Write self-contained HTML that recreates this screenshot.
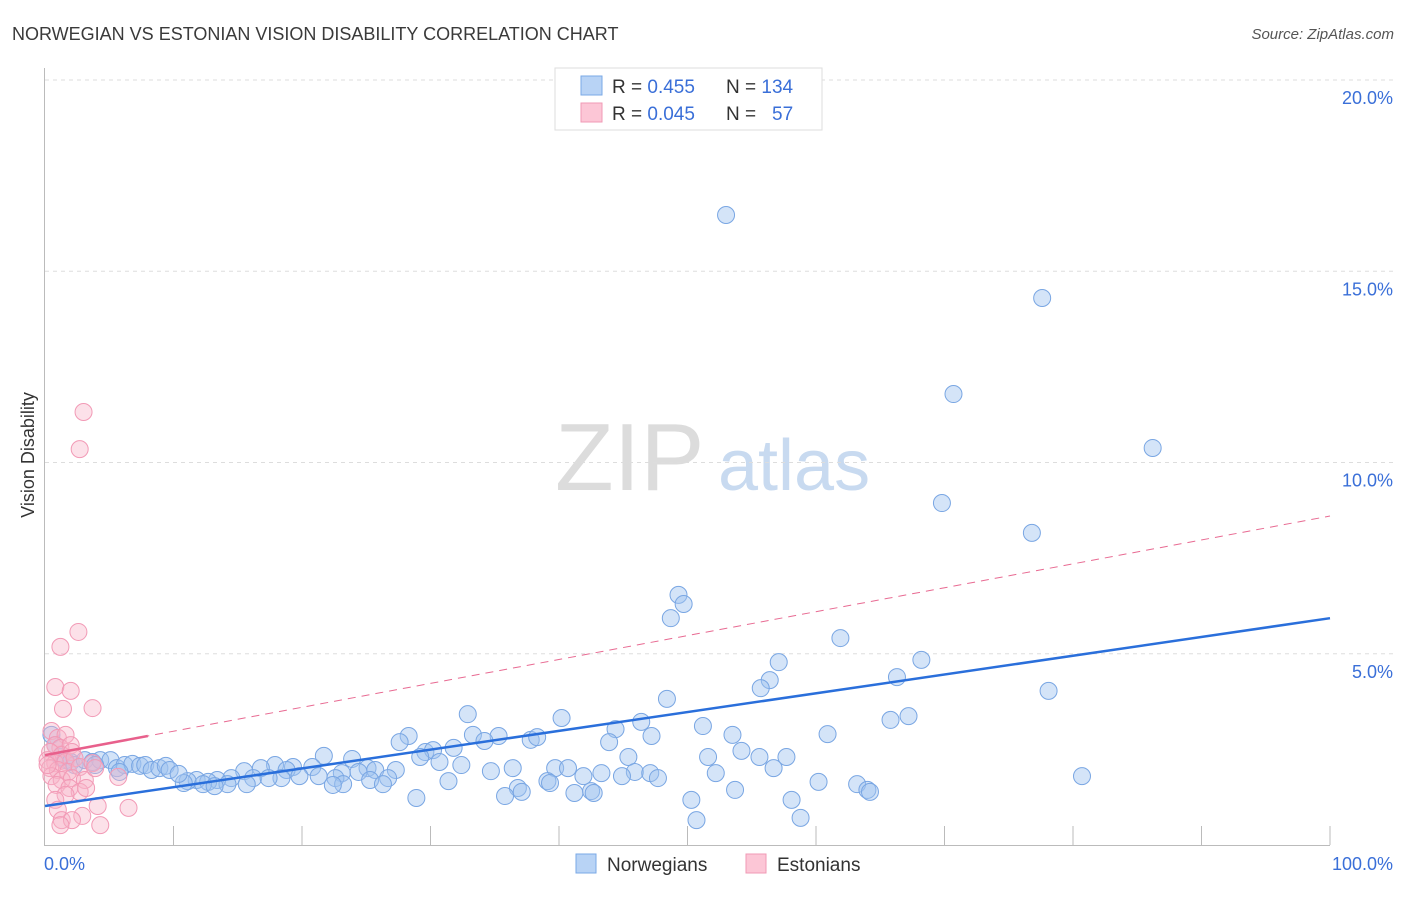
<!DOCTYPE html>
<html><head><meta charset="utf-8"><style>
body{margin:0;background:#fff;font-family:"Liberation Sans",sans-serif;}
svg text{font-family:"Liberation Sans",sans-serif;}
</style></head><body>
<svg id="chart" width="1406" height="892" xmlns="http://www.w3.org/2000/svg">
<text x="12" y="40" font-size="18" fill="#3a3a3a">NORWEGIAN VS ESTONIAN VISION DISABILITY CORRELATION CHART</text>
<text x="1394" y="39" font-size="15" fill="#555" text-anchor="end" font-style="italic">Source: ZipAtlas.com</text>
<g>
<text x="555" y="490" font-size="96" fill="#dcdcdc" font-family="Liberation Serif, serif">ZIP</text>
<text x="718" y="490" font-size="72" fill="#c8daf0">atlas</text>
</g>
<g id="grid"></g>
<line x1="44.5" y1="68" x2="44.5" y2="845" stroke="#bbb"/>
<line x1="44" y1="845.5" x2="1330" y2="845.5" stroke="#bbb"/>
<text transform="translate(34,455) rotate(-90)" font-size="18" fill="#333" text-anchor="middle">Vision Disability</text>
<text x="44" y="870" font-size="18" fill="#3a6fd8">0.0%</text>
<text x="1393" y="870" font-size="18" fill="#3a6fd8" text-anchor="end">100.0%</text>
<g id="marks"></g>
<g>
<rect x="555" y="68" width="267" height="62" fill="#fff" stroke="#ddd"/>
<rect x="581" y="76" width="21" height="19" fill="#b8d3f5" stroke="#7aa8e6"/>
<rect x="581" y="103" width="21" height="19" fill="#fcc6d6" stroke="#f09ab5"/>
<text x="612" y="93" font-size="19" fill="#333">R = <tspan fill="#3a6fd8">0.455</tspan><tspan x="726">N = </tspan><tspan fill="#3a6fd8">134</tspan></text>
<text x="612" y="120" font-size="19" fill="#333">R = <tspan fill="#3a6fd8">0.045</tspan><tspan x="726">N = </tspan><tspan fill="#3a6fd8" x="772">57</tspan></text>
</g>
<g>
<rect x="576" y="854" width="20" height="19" fill="#b8d3f5" stroke="#7aa8e6"/>
<text x="607" y="871" font-size="19" fill="#333">Norwegians</text>
<rect x="746" y="854" width="20" height="19" fill="#fcc6d6" stroke="#f09ab5"/>
<text x="777" y="871" font-size="19" fill="#333">Estonians</text>
</g>
</svg>
<script>
const yTicks=[5,10,15,20];
const yTickLabels=["5.0%","10.0%","15.0%","20.0%"];
const blueX=[53.0,77.6,70.7,86.2,69.8,76.8,49.3,49.7,48.7,61.9,68.2,57.1,56.4,55.7,66.3,78.1,48.4,67.2,65.8,32.9,40.2,46.4,44.4,51.2,28.3,33.3,35.3,37.8,38.3,43.9,47.2,53.5,60.9,27.6,34.2,31.8,29.6,30.2,21.7,23.9,30.7,32.4,29.2,45.4,51.6,54.2,55.6,57.7,17.9,19.3,20.8,18.8,16.8,15.5,25.1,25.7,27.3,36.4,39.7,40.7,23.1,24.4,26.7,19.8,21.3,34.7,43.3,45.9,47.1,56.7,52.2,80.7,41.9,44.9,47.7,22.6,18.4,14.5,16.2,17.4,13.4,11.8,12.7,11.1,25.3,31.4,39.1,14.2,15.7,12.3,10.8,13.2,23.2,26.3,39.3,60.2,63.2,53.7,36.8,37.1,64.0,64.2,22.4,41.2,42.5,42.7,35.8,28.9,50.3,58.1,50.7,58.8,0.5,0.8,1.2,1.6,2.0,2.3,3.1,3.7,4.3,5.1,5.6,6.2,6.8,7.4,7.8,8.3,8.9,9.4,9.7,10.4,5.8,3.9];
const blueY=[16.47,14.30,11.79,10.38,8.94,8.16,6.54,6.30,5.93,5.41,4.84,4.78,4.31,4.10,4.39,4.03,3.82,3.37,3.27,3.42,3.32,3.22,3.03,3.11,2.85,2.88,2.85,2.75,2.82,2.69,2.85,2.88,2.90,2.69,2.72,2.54,2.43,2.48,2.33,2.25,2.17,2.09,2.30,2.30,2.30,2.46,2.30,2.30,2.09,2.04,2.04,1.96,2.01,1.93,2.01,1.96,1.96,2.01,2.01,2.01,1.88,1.91,1.75,1.80,1.80,1.93,1.88,1.91,1.88,2.01,1.88,1.80,1.80,1.80,1.75,1.75,1.75,1.75,1.75,1.75,1.70,1.70,1.65,1.67,1.70,1.67,1.67,1.59,1.59,1.59,1.62,1.54,1.59,1.59,1.62,1.65,1.59,1.44,1.49,1.39,1.44,1.39,1.57,1.36,1.41,1.36,1.28,1.23,1.18,1.18,0.65,0.71,2.88,2.61,2.30,2.22,2.17,2.09,2.22,2.17,2.22,2.22,2.01,2.09,2.12,2.07,2.09,1.96,2.01,2.07,1.96,1.86,1.91,2.09];
const pinkX=[3.0,2.7,2.6,1.2,0.8,2.0,1.4,3.7,0.5,1.0,1.6,0.8,1.2,2.0,0.4,1.3,2.1,0.2,0.8,1.6,2.3,0.4,1.0,1.8,2.7,3.7,0.5,1.3,2.1,3.1,3.9,5.7,0.9,1.9,2.7,3.2,1.6,0.8,4.1,6.5,1.0,2.9,1.3,2.1,1.2,4.3,0.2];
const pinkY=[11.32,10.35,5.57,5.18,4.13,4.03,3.56,3.58,2.98,2.80,2.88,2.61,2.54,2.61,2.43,2.35,2.43,2.22,2.14,2.17,2.27,2.01,1.96,1.91,2.04,2.14,1.80,1.70,1.75,1.70,2.01,1.78,1.57,1.49,1.39,1.49,1.31,1.18,1.02,0.97,0.92,0.76,0.65,0.65,0.52,0.52,2.09];
const blueTrend=[1.02,5.93];
const pinkTrend=[2.35,8.6];
const NS="http://www.w3.org/2000/svg";
const xs=v=>45+v*12.85, ys=v=>845-v*38.25;
function mk(tag,attrs,parent){const e=document.createElementNS(NS,tag);for(const k in attrs)e.setAttribute(k,attrs[k]);parent.appendChild(e);return e;}
const grid=document.getElementById('grid'), marks=document.getElementById('marks');
yTicks.forEach((t,i)=>{
 const l=mk('line',{x1:45,x2:1395,y1:ys(t),y2:ys(t),stroke:'#ddd','stroke-dasharray':'4,4'},grid);
 
 
 const tx=mk('text',{x:1393,y:ys(t)+24,'font-size':18,fill:'#3a6fd8','text-anchor':'end'},grid);
 tx.textContent=yTickLabels[i];
 
 
});
for(let i=1;i<=10;i++){
 const l=mk('line',{x1:xs(i*10),x2:xs(i*10),y1:826,y2:845,stroke:'#bbb'},grid);
 
 
}
blueX.forEach((x,i)=>{
 const c=mk('circle',{cx:xs(x),cy:ys(blueY[i]),r:8.5,fill:'rgba(160,196,240,0.45)',stroke:'#79a6e3','stroke-width':1},marks);
 
 
});
pinkX.forEach((x,i)=>{
 const c=mk('circle',{cx:xs(x),cy:ys(pinkY[i]),r:8.5,fill:'rgba(248,180,200,0.4)',stroke:'#f29ab6','stroke-width':1},marks);
 
 
});
const pd=mk('line',{x1:xs(0),y1:ys(pinkTrend[0]),x2:xs(100),y2:ys(pinkTrend[1]),stroke:'#e86a92','stroke-width':1,'stroke-dasharray':'8,6'},marks);


const ps=mk('line',{x1:xs(0),y1:ys(pinkTrend[0]),x2:xs(8),y2:ys(pinkTrend[0]+(pinkTrend[1]-pinkTrend[0])*0.08),stroke:'#e8608c','stroke-width':2.5},marks);


const bl=mk('line',{x1:xs(0),y1:ys(blueTrend[0]),x2:xs(100),y2:ys(blueTrend[1]),stroke:'#2a6fdb','stroke-width':2.5},marks);


</script>
</body></html>
